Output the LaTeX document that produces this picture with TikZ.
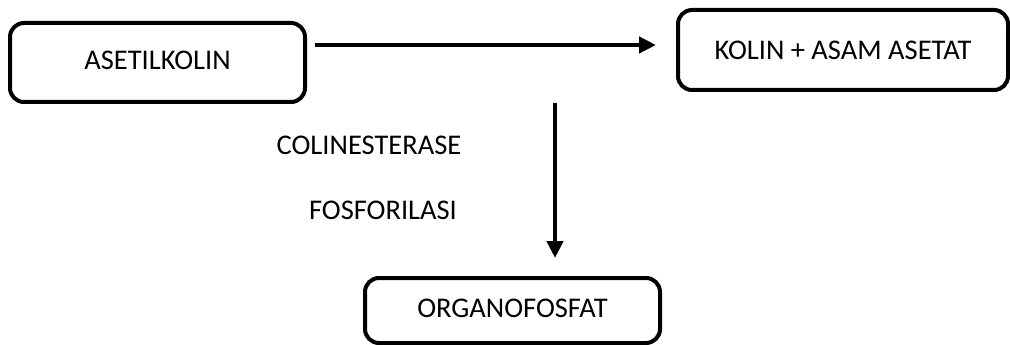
\documentclass[tikz,border=0pt]{standalone}
\usepackage{fontspec}
\setmainfont{Carlito}
\usetikzlibrary{arrows.meta}
\begin{document}
\begin{tikzpicture}[x=1pt,y=-1pt,
  box/.style={draw=black, line width=4pt, rounded corners=14pt, fill=white,
    inner sep=0pt, font=\fontsize{28.5}{32}\selectfont},
  lbl/.style={inner sep=0pt, font=\fontsize{28.5}{32}\selectfont},
  arr/.style={line width=4.5pt, -{Triangle[length=17pt,width=16pt]}}]
\useasboundingbox (0,0) rectangle (1010,345);
\node[box, minimum width=295pt, minimum height=79pt] (a) at (157.5,62.5) {\raisebox{5pt}{ASETILKOLIN}};
\node[box, minimum width=330pt, minimum height=80pt] (b) at (843,50) {KOLIN + ASAM ASETAT};
\node[box, minimum width=295pt, minimum height=65pt] (c) at (512.5,310.5) {\raisebox{4pt}{ORGANOFOSFAT}};
\node[lbl] (l1) at (369,145) {COLINESTERASE};
\node[lbl] (l2) at (383,210) {FOSFORILASI};
\coordinate (vtop) at (555,103);
\draw[arr, shorten <=8pt, shorten >=20pt] ([yshift=17.5pt]a.east) -- ([yshift=5pt]b.west);
\draw[arr, shorten >=18pt] (vtop) -- (vtop |- c.north);
\end{tikzpicture}
\end{document}
